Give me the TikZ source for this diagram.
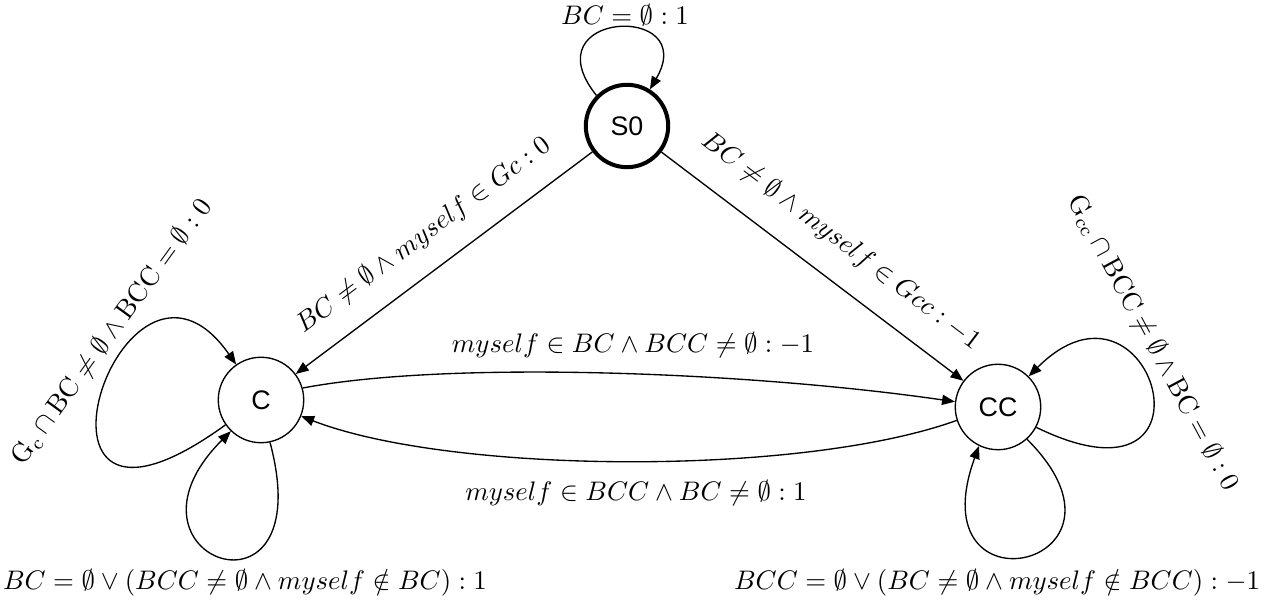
\documentclass[tikz,border=0pt]{standalone}
\usepackage{amsmath, amssymb}
\usepackage{fontspec}
\newfontfamily\statefont{Liberation Sans}
\usetikzlibrary{arrows.meta}

\begin{document}
\begin{tikzpicture}[
    x=0.0131cm, y=0.0131cm,
    st/.style={draw, circle, line width=0.5pt, minimum size=1.12cm, inner sep=0pt,
               font=\statefont\fontsize{10}{12}\selectfont},
    init/.style={st, line width=1.5pt, minimum size=1.08cm},
    tr/.style={-{Triangle[length=4.8pt, width=3.8pt]}, line width=0.5pt},
    lbl/.style={inner sep=1pt},
  ]
  \useasboundingbox (0,0) rectangle (1265,602);
  % states
  \node[init] (S0) at (627,476) {S0};
  \node[st]   (C)  at (261,202) {C};
  \node[st]   (CC) at (998,195) {CC};
  % transitions from S0
  \draw[tr] (S0.135) .. controls +(-68,85) and +(51,87) .. (S0.58);
  \node[lbl] (lS0) at (625,587) {$BC = \emptyset : 1$};
  \draw[tr] (S0) -- node[lbl, sloped, above=7pt] {$BC \neq \emptyset \wedge myself \in Gc : 0$} (C);
  \draw[tr] (S0) -- node[lbl, sloped, above=8pt, pos=0.52] {$BC \neq \emptyset \wedge myself \in Gcc : -1$} (CC);
  % between C and CC
  \draw[tr] (C.16) .. controls (450,242) and (750,230) .. (CC.173);
  \node[lbl] (lCCC) at (633,257) {$myself \in BC \wedge BCC \neq \emptyset : -1$};
  \draw[tr] (CC.198) .. controls (800,125) and (450,128) .. (C.338);
  \node[lbl] (lCCC2) at (636,109) {$myself \in BCC \wedge BC \neq \emptyset : 1$};
  % loops on C
  \draw[tr] (C.215) .. controls +(216:285) and +(125:200) .. (C.125);
  \node[lbl, rotate=54] (lC1) at (112,270)
    {$\mathrm{G}_\mathrm{c} \cap \mathrm{BC} \neq \emptyset \wedge \mathrm{BCC} = \emptyset : 0$};
  \draw[tr] (C.282) .. controls +(285:200) and +(225:180) .. (C.226);
  \node[lbl] (lC2) at (245,19) {$BC = \emptyset \vee (BCC \neq \emptyset \wedge myself \notin BC) : 1$};
  % loops on CC
  \draw[tr] (CC.332) .. controls +(334:215) and +(45:175) .. (CC.45);
  \node[lbl, rotate=-61.7] (lCC1) at (1153,259)
    {$\mathrm{G}_\mathrm{cc} \cap \mathrm{BCC} \neq \emptyset \wedge \mathrm{BC} = \emptyset : 0$};
  \draw[tr] (CC.312) .. controls +(315:180) and +(250:185) .. (CC.244);
  \node[lbl] (lCC2) at (997,19) {$BCC = \emptyset \vee (BC \neq \emptyset \wedge myself \notin BCC) : -1$};
\end{tikzpicture}
\end{document}
